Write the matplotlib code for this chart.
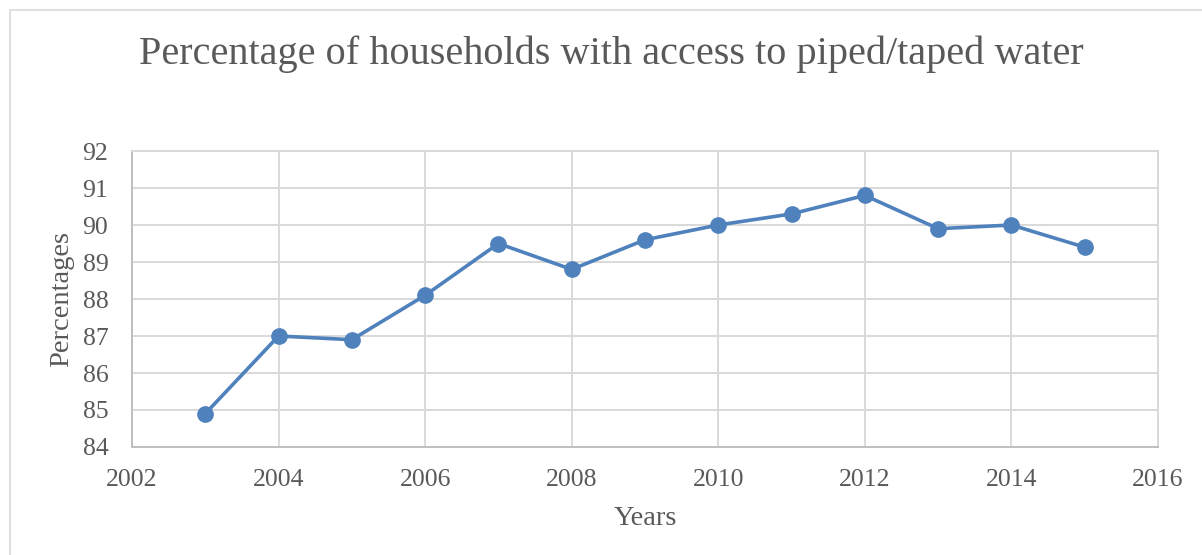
import matplotlib.pyplot as plt
from matplotlib.patches import Rectangle

# ----------------------------
# Data
# ----------------------------
years = [2003, 2004, 2005, 2006, 2007, 2008, 2009, 2010, 2011, 2012, 2013, 2014, 2015]
percentages = [84.9, 87.0, 86.9, 88.1, 89.5, 88.8, 89.6, 90.0, 90.3, 90.8, 89.9, 90.0, 89.4]
x_ticks = [2002, 2004, 2006, 2008, 2010, 2012, 2014, 2016]
y_ticks = [84, 85, 86, 87, 88, 89, 90, 91, 92]

text_color = '#595959'
grid_color = '#D9D9D9'
plt.rcParams['font.family'] = ['Liberation Serif', 'DejaVu Serif']

fig = plt.figure(figsize=(12.02, 5.55), dpi=100)
ax = fig.add_axes([0.1098, 0.1946, 0.8536, 0.5333])

# outer chart border
fig.patches.append(Rectangle((10 / 1202, -0.01), 1.0, 1 - 10 / 555 + 0.01,
                             transform=fig.transFigure, fill=False,
                             edgecolor=grid_color, linewidth=1.2))

ax.plot(years, percentages, color='#4F81BD', linewidth=2.6,
        marker='o', markersize=11, zorder=3)

ax.set_xlim(2002, 2016)
ax.set_ylim(84, 92)
ax.set_xticks(x_ticks)
ax.set_yticks(y_ticks)
ax.grid(True, color=grid_color, linewidth=1.4)
ax.set_axisbelow(True)
ax.tick_params(length=0, labelsize=18.5, labelcolor=text_color)
ax.tick_params(axis='x', pad=16)
ax.tick_params(axis='y', pad=17)
for side, spine in ax.spines.items():
    spine.set_color('#BFBFBF' if side in ('left', 'bottom') else grid_color)
    spine.set_linewidth(1.4)

ax.set_xlabel('Years', fontsize=20.5, color=text_color, labelpad=11)
ax.set_ylabel('Percentages', fontsize=20.5, color=text_color, labelpad=6)
fig.text(0.509, 0.902, 'Percentage of households with access to piped/taped water',
         ha='center', va='center', fontsize=29, color=text_color)

fig.savefig('out.png', dpi=100)
